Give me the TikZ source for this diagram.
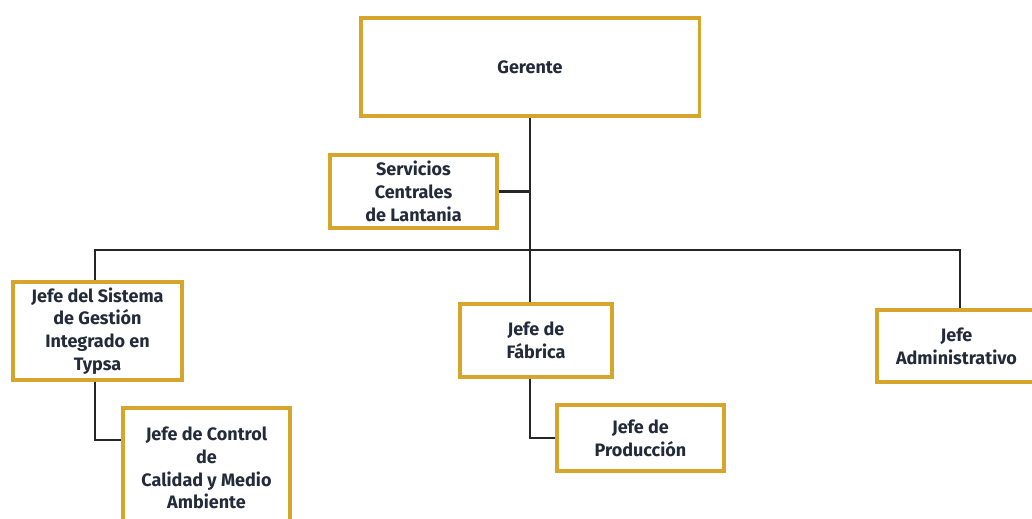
\documentclass[tikz,border=0pt]{standalone}
\usepackage{fontspec}
\setmainfont{Fira Sans}
\definecolor{oro}{HTML}{D6A62C}
\definecolor{tinta}{HTML}{232B3A}

\begin{document}
\begin{tikzpicture}
        [x=0.025cm, y=-0.025cm,
         caja/.style={draw=oro, line width=2.2pt, fill=white, align=center,
            text=tinta, inner sep=0pt,
            font=\bfseries\fontsize{12.8}{16.2}\selectfont},
         linea/.style={line width=1.5pt, black!85}]
        \useasboundingbox (0,0) rectangle (1032,519);
        \clip (0,0) rectangle (1032,519);
        % cajas del organigrama, medidas en pixeles
        \node[caja, minimum width=8.45cm, minimum height=2.45cm] (ger) at (530,67) {Gerente};
        \node[caja, minimum width=4.175cm, minimum height=1.825cm] (ser) at (413.5,191.5)
            {Servicios\\Centrales\\de Lantania};
        \node[caja, minimum width=4.225cm, minimum height=2.45cm] (sis) at (97.5,331)
            {Jefe del Sistema\\de Gestión\\Integrado en\\Typsa};
        \node[caja, minimum width=4.175cm, minimum height=3cm] (con) at (206.5,468)
            {Jefe de Control\\de\\Calidad y Medio\\Ambiente};
        \node[caja, minimum width=3.8cm, minimum height=1.825cm] (fab) at (536,340.5)
            {Jefe de\\Fábrica};
        \node[caja, minimum width=4.175cm, minimum height=1.65cm] (pro) at (640.5,438)
            {Jefe de\\Producción};
        \node[caja, minimum width=3.975cm, minimum height=1.8cm] (adm) at (956.5,346)
            {Jefe\\Administrativo};
        \coordinate (busL) at (95,250);
        \coordinate (busR) at (960,250);
        % lineas
        \draw[linea] (ger.south) -- (ger.south |- fab.north);
        \draw[linea] (ser.east) -- (ser.east -| ger.south);
        \draw[linea] (sis.north -| busL) -- (busL) -- (busR) -- (adm.north -| busR);
        \draw[linea] (fab.south -| ger.south) |- (pro.west);
        \draw[linea] (sis.south -| busL) |- ([yshift=0.7cm]con.west);
    \end{tikzpicture}
\end{document}
